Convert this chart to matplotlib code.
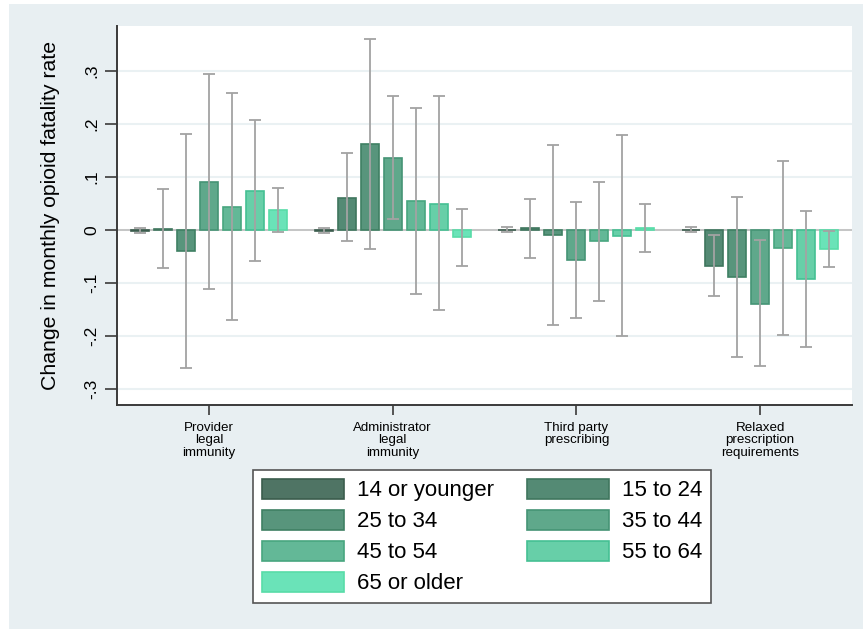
import numpy as np
import matplotlib
matplotlib.use('Agg')
import matplotlib.pyplot as plt
from matplotlib.patches import Rectangle

plt.rcParams['font.family'] = ['Liberation Sans', 'DejaVu Sans']

# policy groups on the x axis
policies = ['Provider\nlegal\nimmunity', 'Administrator\nlegal\nimmunity',
            'Third party\nprescribing', 'Relaxed\nprescription\nrequirements']
ages = ['14 or younger', '15 to 24', '25 to 34', '35 to 44',
        '45 to 54', '55 to 64', '65 or older']

# point estimates, one row per age group (columns = policies)
est = [[-0.002, -0.002, 0.001, 0.001],
       [0.002, 0.061, 0.003, -0.067],
       [-0.039, 0.162, -0.009, -0.089],
       [0.091, 0.136, -0.057, -0.139],
       [0.043, 0.054, -0.021, -0.033],
       [0.074, 0.050, -0.011, -0.092],
       [0.038, -0.013, 0.004, -0.035]]
# 95% confidence bounds
ci_lo = [[-0.005, -0.006, -0.004, -0.004],
         [-0.072, -0.021, -0.052, -0.124],
         [-0.261, -0.035, -0.180, -0.240],
         [-0.111, 0.021, -0.166, -0.257],
         [-0.170, -0.121, -0.134, -0.197],
         [-0.058, -0.150, -0.200, -0.220],
         [-0.004, -0.067, -0.041, -0.070]]
ci_hi = [[0.003, 0.004, 0.005, 0.005],
         [0.077, 0.145, 0.059, -0.009],
         [0.182, 0.360, 0.161, 0.062],
         [0.295, 0.252, 0.053, -0.019],
         [0.258, 0.231, 0.090, 0.130],
         [0.208, 0.252, 0.179, 0.036],
         [0.080, 0.040, 0.049, -0.001]]

fills = ['#4f7464', '#548a74', '#58957c', '#5fa88b', '#63b897', '#67cfa8', '#6ae3b8']
edges = ['#3b5c4d', '#3f765e', '#3f8063', '#459475', '#48a67f', '#45c093', '#58dca8']

fig = plt.figure(figsize=(8.63, 6.29), dpi=100)
fig.patch.set_facecolor('white')
fig.patches.append(Rectangle((9 / 863, 0), 1, 1 - 4 / 629, transform=fig.transFigure,
                             facecolor='#e8eff2', edgecolor='none', zorder=-10))

ax = fig.add_axes([117 / 863, 1 - 405 / 629, 735 / 863, 379 / 629])
ax.set_facecolor('white')

x = np.arange(1, 5)
step = 0.125
width = 0.098
for i in range(len(ages)):
    xi = x + (i - 3) * step
    e = np.array(est[i])
    lo = np.array(ci_lo[i])
    hi = np.array(ci_hi[i])
    ax.bar(xi, e, width, color=fills[i], edgecolor=edges[i], linewidth=1.2,
           label=ages[i], zorder=3)
    ax.errorbar(xi, e, yerr=[e - lo, hi - e], fmt='none', ecolor='#a3a3a3',
                elinewidth=1.3, capsize=4.5, capthick=1.3, zorder=4)

ax.axhline(0, color='#c2c2c2', linewidth=1.3, zorder=2)
ax.set_xlim(0.5, 4.5)
ax.set_ylim(-0.33, 0.385)
yt = [-0.3, -0.2, -0.1, 0, 0.1, 0.2, 0.3]
ax.set_yticks(yt)
ax.set_yticklabels(['-.3', '-.2', '-.1', '0', '.1', '.2', '.3'],
                   rotation=90, va='center', fontsize=12.5)
ax.set_xticks(x)
ax.set_xticklabels(policies, fontsize=9.6, linespacing=1.05)
ax.grid(axis='y', color='#eaf1f3', linewidth=1.5, zorder=0)
ax.set_axisbelow(True)
for s in ['top', 'right']:
    ax.spines[s].set_visible(False)
for s in ['left', 'bottom']:
    ax.spines[s].set_color('#3a3a3a')
    ax.spines[s].set_linewidth(1.4)
ax.tick_params(axis='y', length=9, width=1.2, color='#3a3a3a', pad=4)
ax.tick_params(axis='x', length=7, width=1.2, color='#3a3a3a', pad=5)
ax.set_ylabel('Change in monthly opioid fatality rate', fontsize=15.3, labelpad=17)

h, l = ax.get_legend_handles_labels()
order = [0, 2, 4, 6, 1, 3, 5]
leg = fig.legend([h[k] for k in order], [l[k] for k in order], ncol=2,
                 loc='upper left', bbox_to_anchor=(253 / 863, 1 - 470 / 629),
                 borderaxespad=0, fontsize=16, handlelength=3.7, handleheight=1.0,
                 handletextpad=0.6, columnspacing=1.45, labelspacing=0.38,
                 borderpad=0.4, fancybox=False, framealpha=1)
leg.get_frame().set_edgecolor('#555555')
leg.get_frame().set_linewidth(1.2)

fig.savefig('out.png', dpi=100)
